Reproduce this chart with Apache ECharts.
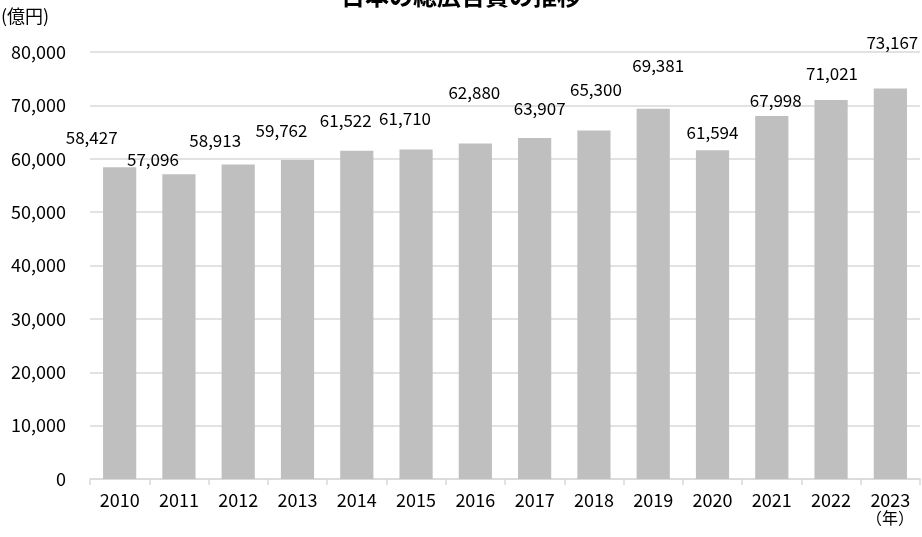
<!DOCTYPE html>
<html><head><meta charset="utf-8">
<script src="https://cdn.jsdelivr.net/npm/echarts@6/dist/echarts.min.js"></script>
<style>html,body{margin:0;padding:0;background:#fff}#c{width:922px;height:537px}</style>
</head><body><div id="c"></div>
<script>
const years = ['2010','2011','2012','2013','2014','2015','2016','2017','2018','2019','2020','2021','2022','2023'];
const adSpend = [58427,57096,58913,59762,61522,61710,62880,63907,65300,69381,61594,67998,71021,73167];
const yTicks = [0,10000,20000,30000,40000,50000,60000,70000,80000];
// label placement tweaks (style only): [dx, dy] in px
const labelOffsets = [[-28,-17],[-26,-2],[-23,-12],[-16,-17],[-11,-18],[-11,-19],[-1,-38],[5,-17],[2,-28],[5,-31],[0,-5],[4,-3],[1,-14],[2,-33]];

const font = '"Noto Sans CJK JP","Noto Sans",sans-serif';
const chart = echarts.init(document.getElementById('c'), null, {renderer:'canvas'});
chart.setOption({
  animation:false,
  backgroundColor:'#fff',
  title:{text:'日本の総広告費の推移',left:'center',top:-21,
    textStyle:{fontFamily:font,fontSize:24,fontWeight:'bold',color:'#000'}},
  graphic:[
    {type:'text',left:1,top:7,style:{text:'(億円)',font:'18px '+font,fill:'#000'}},
    {type:'text',left:866,top:510,style:{text:'（年）',font:'16px '+font,fill:'#000'}}
  ],
  grid:{left:90,right:2,top:52,bottom:58,containLabel:false},
  xAxis:{type:'category',data:years,
    axisLine:{lineStyle:{color:'#d9d9d9',width:1.5}},
    axisTick:{show:true,length:6,lineStyle:{color:'#d9d9d9',width:1.5},alignWithLabel:false},
    axisLabel:{fontFamily:font,fontSize:18,color:'#000',margin:12}},
  yAxis:{type:'value',min:yTicks[0],max:yTicks[yTicks.length-1],interval:yTicks[1]-yTicks[0],
    axisLine:{show:false},axisTick:{show:false},
    splitLine:{lineStyle:{color:'#d9d9d9',width:1.5}},
    axisLabel:{fontFamily:font,fontSize:18,color:'#000',margin:24,
      formatter:v=>v.toLocaleString('en-US')}},
  series:[{type:'bar',barWidth:'56%',
    data:adSpend.map((v,i)=>({value:v,label:{offset:labelOffsets[i]}})),
    itemStyle:{color:'#bfbfbf'},
    label:{show:true,position:'top',distance:4,fontFamily:font,fontSize:17,color:'#000',
      formatter:p=>p.value.toLocaleString('en-US')}}]
});
</script></body></html>
